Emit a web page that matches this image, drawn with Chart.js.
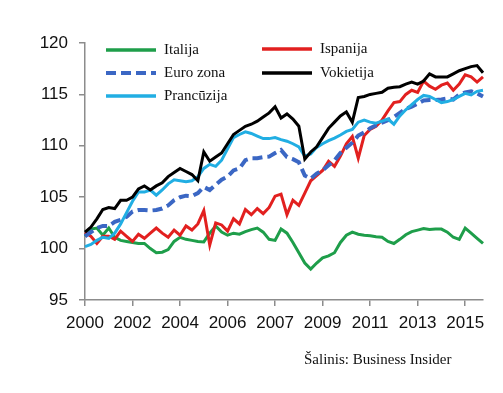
<!DOCTYPE html>
<html>
<head>
<meta charset="utf-8">
<script src="https://cdn.jsdelivr.net/npm/chart.js@4.4.1/dist/chart.umd.min.js"></script>
<style>
  html, body { margin: 0; padding: 0; background: #fff; }
  #wrap { width: 503px; height: 393px; }
</style>
</head>
<body>
<div id="wrap"><canvas id="chart" width="503" height="393"></canvas></div>
<script>
// tick labels shown every 8 points along the x axis
const tickYears = ['2000', '2002', '2004', '2006', '2007', '2009', '2011', '2013', '2015'];
const tickEvery = 8;

// series (index values)
const vokietija = [101.6, 102.1, 102.9, 103.8, 104.0, 103.9, 104.7, 104.7, 105.0, 105.8,
  106.1, 105.7, 106.1, 106.4, 107.0, 107.4, 107.8, 107.5, 107.2, 106.6,
  109.4, 108.5, 108.9, 109.3, 110.2, 111.1, 111.5, 111.9, 112.1, 112.4,
  112.8, 113.2, 113.8, 112.7, 113.1, 112.6, 111.9, 108.7, 109.4, 109.9,
  110.8, 111.7, 112.3, 112.9, 113.3, 112.3, 114.7, 114.8, 115.0, 115.1,
  115.2, 115.6, 115.7, 115.75, 116.0, 116.2, 116.0, 116.3, 117.0, 116.7,
  116.7, 116.7, 117.0, 117.3, 117.5, 117.7, 117.8, 117.1];

const prancuzija = [100.2, 100.4, 100.8, 101.1, 101.0, 101.5, 102.4, 103.5, 104.6, 105.5,
  105.5, 105.7, 105.2, 105.7, 106.3, 106.7, 106.6, 106.5, 106.6, 107.0,
  107.8, 108.2, 108.0, 108.6, 109.7, 110.8, 111.1, 111.35, 111.2, 110.95,
  110.7, 110.7, 110.8, 110.6, 110.45, 110.2, 109.9, 109.0, 109.2, 109.85,
  110.2, 110.5, 110.75, 111.05, 111.4, 111.6, 112.3, 112.5, 112.3, 112.2,
  112.4, 112.6, 112.1, 112.9, 113.5, 114.0, 114.5, 114.9, 114.8, 114.5,
  114.2, 114.3, 114.5, 114.8, 115.1, 114.95, 115.3, 115.4];

const euroZona = [101.2, 101.6, 102.0, 102.2, 102.2, 102.6, 102.8, 103.1, 103.6, 103.75,
  103.75, 103.7, 103.75, 103.9, 104.2, 104.7, 105.0, 105.15, 105.1, 105.4,
  106.0, 105.7, 106.2, 106.7, 107.0, 107.6, 107.8, 108.6, 108.8, 108.8,
  108.9, 108.95, 109.3, 109.6, 108.9, 108.7, 108.4, 107.1, 106.8, 107.3,
  107.6, 108.1, 108.6, 109.3, 109.8, 110.3, 111.0, 111.3, 111.7, 112.0,
  112.25, 112.5, 112.8, 113.2, 113.6, 113.8, 114.1, 114.4, 114.45, 114.45,
  114.5, 114.6, 114.5, 115.0, 115.2, 115.3, 115.1, 114.8];

const ispanija = [101.6, 101.2, 100.5, 101.2, 101.2, 100.9, 101.7, 101.2, 100.7, 101.4,
  101.0, 101.5, 102.0, 101.5, 101.1, 101.8, 101.3, 102.2, 101.8, 102.4,
  103.7, 100.35, 102.5, 102.3, 101.7, 102.9, 102.4, 103.8, 103.3, 103.9,
  103.4, 104.0, 105.1, 105.3, 103.3, 104.7, 104.2, 105.4, 106.6, 107.1,
  107.6, 108.5, 108.0, 109.0, 110.2, 110.9, 108.8, 111.0, 111.6, 111.9,
  112.5, 113.4, 114.2, 114.3, 115.0, 115.4, 115.2, 116.3, 115.8, 115.5,
  115.9, 116.1, 115.4, 116.0, 116.9, 116.7, 116.2, 116.7];

const italija = [101.2, 101.9, 102.0, 101.3, 102.0, 101.1, 100.8, 100.7, 100.6, 100.5,
  100.5, 100.0, 99.6, 99.65, 99.9, 100.7, 101.1, 100.9, 100.8, 100.7,
  100.65, 101.5, 102.2, 101.6, 101.3, 101.5, 101.4, 101.65, 101.85, 102.0,
  101.6, 100.9, 100.8, 101.9, 101.5, 100.6, 99.6, 98.6, 98.0, 98.6,
  99.1, 99.3, 99.6, 100.6, 101.3, 101.6, 101.4, 101.3, 101.25, 101.15,
  101.1, 100.7, 100.5, 100.9, 101.35, 101.65, 101.8, 101.95, 101.85, 101.9,
  101.9, 101.6, 101.1, 100.9, 102.0, 101.5, 101.0, 100.5];

const points = italija.map((_, i) => i);

const colors = {
  italija: '#1e9e4a',
  ispanija: '#e2201f',
  euroZona: '#3b67c4',
  prancuzija: '#21aee3',
  vokietija: '#000000'
};

// legend drawn inside the plot, two columns
const legendItems = [
  { label: 'Italija', color: colors.italija, dash: [], x: 106, y: 50 },
  { label: 'Euro zona', color: colors.euroZona, dash: [10, 5], x: 106, y: 73 },
  { label: 'Prancūzija', color: colors.prancuzija, dash: [], x: 106, y: 96 },
  { label: 'Ispanija', color: colors.ispanija, dash: [], x: 262, y: 49 },
  { label: 'Vokietija', color: colors.vokietija, dash: [], x: 262, y: 73 }
];

const sourceText = 'Šalinis: Business Insider';

const customLegend = {
  id: 'customLegend',
  afterDraw(chart) {
    const ctx = chart.ctx;
    ctx.save();
    legendItems.forEach(item => {
      ctx.beginPath();
      ctx.setLineDash(item.dash);
      ctx.lineWidth = item.dash.length ? 4 : 3.5;
      ctx.strokeStyle = item.color;
      ctx.moveTo(item.x, item.y);
      ctx.lineTo(item.x + 50, item.y);
      ctx.stroke();
      ctx.setLineDash([]);
      ctx.fillStyle = '#111';
      ctx.font = '15px "Liberation Serif", "Times New Roman", serif';
      ctx.textBaseline = 'middle';
      ctx.textAlign = 'left';
      ctx.fillText(item.label, item.x + 58, item.y);
    });
    ctx.font = '15px "Liberation Serif", "Times New Roman", serif';
    ctx.textBaseline = 'alphabetic';
    ctx.fillText(sourceText, 304, 364);
    ctx.restore();
  }
};

function lineSet(label, data, color, extra) {
  return Object.assign({
    label: label,
    data: data,
    borderColor: color,
    backgroundColor: color,
    borderWidth: 3,
    pointRadius: 0,
    tension: 0,
    fill: false
  }, extra || {});
}

const ctx = document.getElementById('chart').getContext('2d');
const chart = new Chart(ctx, {
  type: 'line',
  data: {
    labels: points,
    datasets: [
      lineSet('Vokietija', vokietija, colors.vokietija),
      lineSet('Prancūzija', prancuzija, colors.prancuzija),
      lineSet('Euro zona', euroZona, colors.euroZona, { borderDash: [10, 5], borderWidth: 4 }),
      lineSet('Ispanija', ispanija, colors.ispanija),
      lineSet('Italija', italija, colors.italija)
    ]
  },
  options: {
    responsive: false,
    animation: false,
    layout: { padding: { left: 0, right: 20, top: 43, bottom: 43 } },
    plugins: {
      legend: { display: false },
      tooltip: { enabled: false }
    },
    scales: {
      x: {
        type: 'category',
        offset: false,
        afterFit(scale) { scale.height = 50; },
        border: { color: '#8c8c8c', width: 1.5 },
        grid: { display: true, drawOnChartArea: false, drawTicks: true, tickLength: 6, color: '#8c8c8c', lineWidth: 1.5 },
        ticks: {
          autoSkip: false,
          maxRotation: 0,
          padding: 7,
          color: '#111',
          font: { family: '"Liberation Sans", Arial, sans-serif', size: 17 },
          callback: (value, index) => index % tickEvery === 0 ? tickYears[index / tickEvery] : null
        }
      },
      y: {
        min: 95,
        max: 120,
        afterFit(scale) { scale.width = 85; },
        border: { color: '#8c8c8c', width: 1.5 },
        grid: { display: true, drawOnChartArea: false, drawTicks: true, tickLength: 6, color: '#8c8c8c', lineWidth: 1.5 },
        ticks: {
          stepSize: 5,
          padding: 11,
          color: '#111',
          font: { family: '"Liberation Sans", Arial, sans-serif', size: 17 }
        }
      }
    }
  },
  plugins: [customLegend]
});
</script>
</body>
</html>
